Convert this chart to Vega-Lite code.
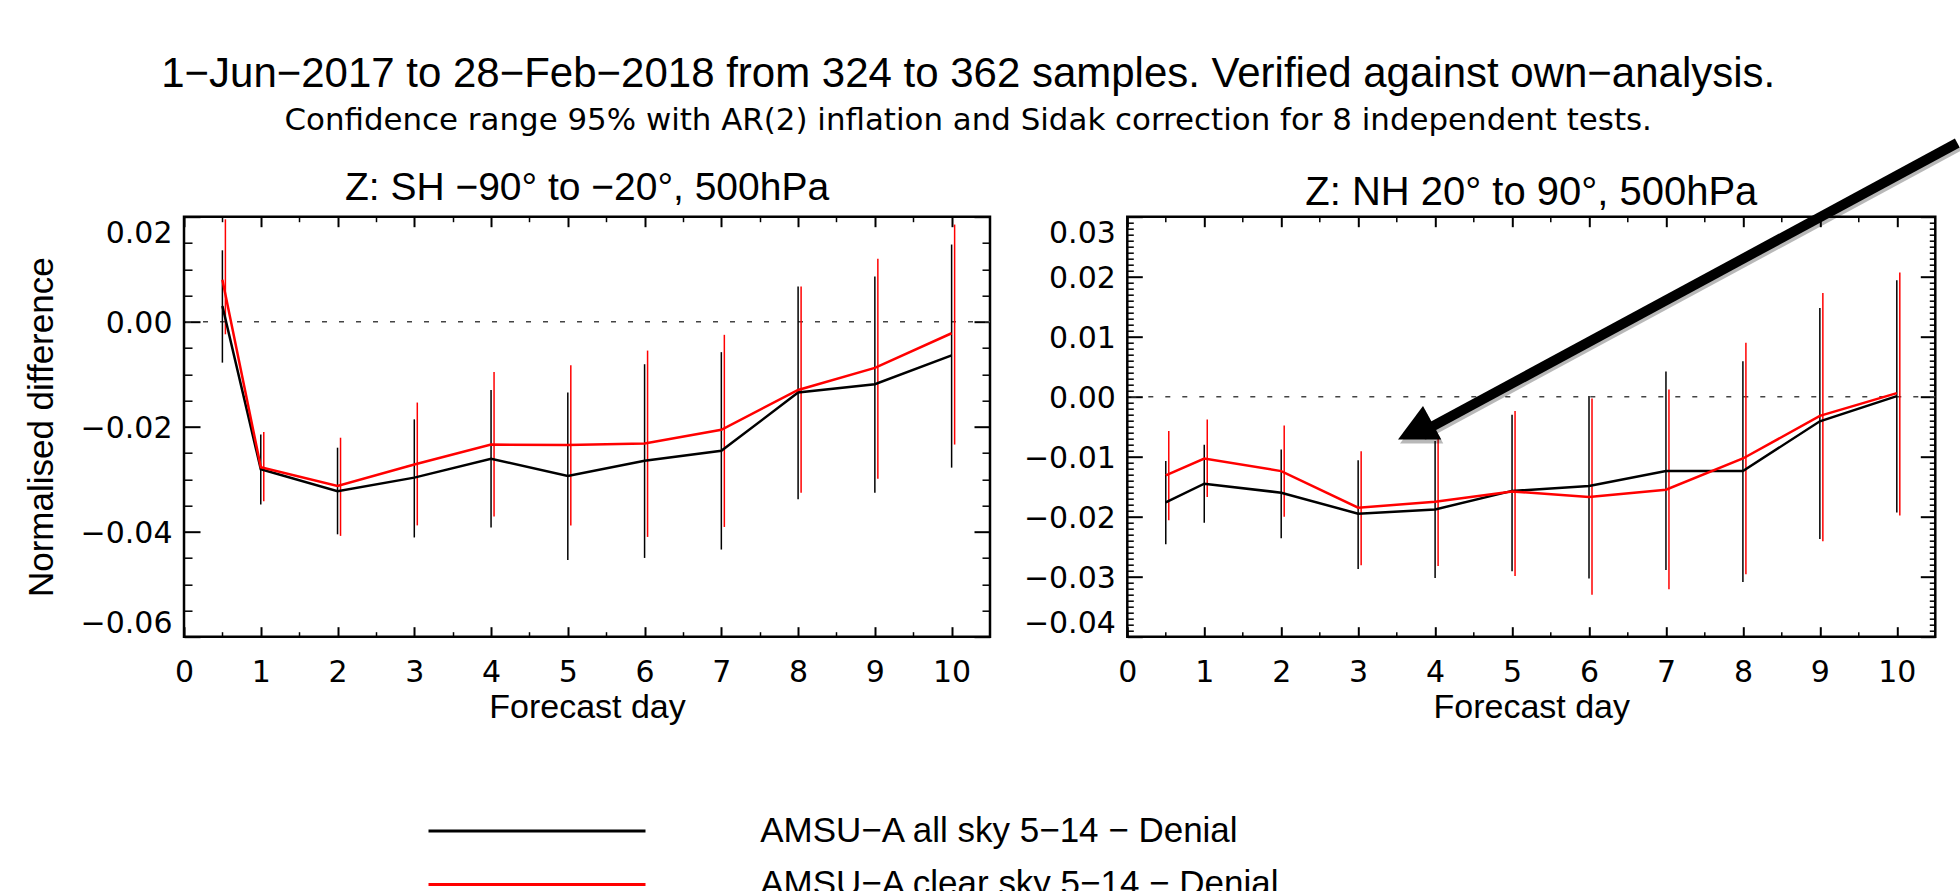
{
  "$schema": "https://vega.github.io/schema/vega-lite/v6.json",
  "background": "white",
  "autosize": {"type": "pad"},
  "padding": {"left": 22, "top": 52.7, "right": 0, "bottom": 0},
  "title": {
    "text": "1−Jun−2017 to 28−Feb−2018 from 324 to 362 samples. Verified against own−analysis.",
    "subtitle": "Confidence range 95% with AR(2) inflation and Sidak correction for 8 independent tests.",
    "anchor": "middle",
    "frame": "bounds",
    "dx": -25.5,
    "font": "Liberation Sans",
    "fontSize": 42,
    "fontWeight": "normal",
    "color": "black",
    "subtitleFont": "DejaVu Sans",
    "subtitleFontSize": 30.9,
    "subtitleColor": "black",
    "subtitlePadding": 9.5,
    "offset": 0
  },
  "datasets": {
    "sh": [
      {"day": 0.5, "series": "AMSU−A all sky 5−14 − Denial", "value": 0.003, "lo": -0.0078, "hi": 0.0136},
      {"day": 1, "series": "AMSU−A all sky 5−14 − Denial", "value": -0.0281, "lo": -0.0348, "hi": -0.0215},
      {"day": 2, "series": "AMSU−A all sky 5−14 − Denial", "value": -0.0323, "lo": -0.0405, "hi": -0.024},
      {"day": 3, "series": "AMSU−A all sky 5−14 − Denial", "value": -0.0297, "lo": -0.0411, "hi": -0.0186},
      {"day": 4, "series": "AMSU−A all sky 5−14 − Denial", "value": -0.0261, "lo": -0.0392, "hi": -0.013},
      {"day": 5, "series": "AMSU−A all sky 5−14 − Denial", "value": -0.0294, "lo": -0.0454, "hi": -0.0135},
      {"day": 6, "series": "AMSU−A all sky 5−14 − Denial", "value": -0.0265, "lo": -0.045, "hi": -0.0081},
      {"day": 7, "series": "AMSU−A all sky 5−14 − Denial", "value": -0.0246, "lo": -0.0434, "hi": -0.0058},
      {"day": 8, "series": "AMSU−A all sky 5−14 − Denial", "value": -0.0135, "lo": -0.0338, "hi": 0.0067},
      {"day": 9, "series": "AMSU−A all sky 5−14 − Denial", "value": -0.0119, "lo": -0.0326, "hi": 0.0086},
      {"day": 10, "series": "AMSU−A all sky 5−14 − Denial", "value": -0.0064, "lo": -0.0278, "hi": 0.0147},
      {"day": 0.5, "series": "AMSU−A clear sky 5−14 − Denial", "value": 0.008, "lo": -0.0024, "hi": 0.0195},
      {"day": 1, "series": "AMSU−A clear sky 5−14 − Denial", "value": -0.0277, "lo": -0.0342, "hi": -0.021},
      {"day": 2, "series": "AMSU−A clear sky 5−14 − Denial", "value": -0.0313, "lo": -0.0408, "hi": -0.0221},
      {"day": 3, "series": "AMSU−A clear sky 5−14 − Denial", "value": -0.0272, "lo": -0.0388, "hi": -0.0154},
      {"day": 4, "series": "AMSU−A clear sky 5−14 − Denial", "value": -0.0234, "lo": -0.0371, "hi": -0.0096},
      {"day": 5, "series": "AMSU−A clear sky 5−14 − Denial", "value": -0.0235, "lo": -0.0388, "hi": -0.0083},
      {"day": 6, "series": "AMSU−A clear sky 5−14 − Denial", "value": -0.0232, "lo": -0.041, "hi": -0.0055},
      {"day": 7, "series": "AMSU−A clear sky 5−14 − Denial", "value": -0.0206, "lo": -0.0391, "hi": -0.0025},
      {"day": 8, "series": "AMSU−A clear sky 5−14 − Denial", "value": -0.013, "lo": -0.0326, "hi": 0.0067},
      {"day": 9, "series": "AMSU−A clear sky 5−14 − Denial", "value": -0.0088, "lo": -0.0299, "hi": 0.012},
      {"day": 10, "series": "AMSU−A clear sky 5−14 − Denial", "value": -0.0022, "lo": -0.0234, "hi": 0.0185}
    ],
    "nh": [
      {"day": 0.5, "series": "AMSU−A all sky 5−14 − Denial", "value": -0.0176, "lo": -0.0246, "hi": -0.0107},
      {"day": 1, "series": "AMSU−A all sky 5−14 − Denial", "value": -0.0145, "lo": -0.021, "hi": -0.008},
      {"day": 2, "series": "AMSU−A all sky 5−14 − Denial", "value": -0.016, "lo": -0.0236, "hi": -0.0088},
      {"day": 3, "series": "AMSU−A all sky 5−14 − Denial", "value": -0.0195, "lo": -0.0287, "hi": -0.0106},
      {"day": 4, "series": "AMSU−A all sky 5−14 − Denial", "value": -0.0188, "lo": -0.0302, "hi": -0.0074},
      {"day": 5, "series": "AMSU−A all sky 5−14 − Denial", "value": -0.0157, "lo": -0.0291, "hi": -0.003},
      {"day": 6, "series": "AMSU−A all sky 5−14 − Denial", "value": -0.0149, "lo": -0.0303, "hi": 0.0001},
      {"day": 7, "series": "AMSU−A all sky 5−14 − Denial", "value": -0.0124, "lo": -0.0289, "hi": 0.0042},
      {"day": 8, "series": "AMSU−A all sky 5−14 − Denial", "value": -0.0124, "lo": -0.0309, "hi": 0.0059},
      {"day": 9, "series": "AMSU−A all sky 5−14 − Denial", "value": -0.0041, "lo": -0.0237, "hi": 0.0148},
      {"day": 10, "series": "AMSU−A all sky 5−14 − Denial", "value": 0.0001, "lo": -0.0193, "hi": 0.0194},
      {"day": 0.5, "series": "AMSU−A clear sky 5−14 − Denial", "value": -0.0131, "lo": -0.0206, "hi": -0.0057},
      {"day": 1, "series": "AMSU−A clear sky 5−14 − Denial", "value": -0.0103, "lo": -0.0167, "hi": -0.0038},
      {"day": 2, "series": "AMSU−A clear sky 5−14 − Denial", "value": -0.0124, "lo": -0.02, "hi": -0.0048},
      {"day": 3, "series": "AMSU−A clear sky 5−14 − Denial", "value": -0.0185, "lo": -0.0281, "hi": -0.0091},
      {"day": 4, "series": "AMSU−A clear sky 5−14 − Denial", "value": -0.0175, "lo": -0.0282, "hi": -0.0068},
      {"day": 5, "series": "AMSU−A clear sky 5−14 − Denial", "value": -0.0158, "lo": -0.0299, "hi": -0.0024},
      {"day": 6, "series": "AMSU−A clear sky 5−14 − Denial", "value": -0.0167, "lo": -0.033, "hi": -0.0003},
      {"day": 7, "series": "AMSU−A clear sky 5−14 − Denial", "value": -0.0155, "lo": -0.0321, "hi": 0.0012},
      {"day": 8, "series": "AMSU−A clear sky 5−14 − Denial", "value": -0.0103, "lo": -0.0296, "hi": 0.009},
      {"day": 9, "series": "AMSU−A clear sky 5−14 − Denial", "value": -0.0032, "lo": -0.0241, "hi": 0.0173},
      {"day": 10, "series": "AMSU−A clear sky 5−14 − Denial", "value": 0.0006, "lo": -0.0198, "hi": 0.0207}
    ]
  },
  "bounds": "flush",
  "spacing": 137.3,
  "hconcat": [
    {
      "width": 806,
      "height": 420,
      "title": {"text": "Z: SH −90° to −20°, 500hPa", "frame": "group", "anchor": "middle", "offset": 8, "font": "Liberation Sans", "fontSize": 39, "fontWeight": "normal", "color": "black"},
      "data": {"name": "sh"},
      "resolve": {"axis": {"x": "independent", "y": "independent"}},
      "layer": [
        {
          "data": {"values": [{"ref": 0}]},
          "mark": {"type": "rule", "color": "#444444", "strokeWidth": 1.5, "strokeDash": [5, 12]},
          "encoding": {
            "y": {"field": "ref", "type": "quantitative", "scale": {"domain": [-0.06, 0.02], "nice": false, "zero": false}, "axis": null}
          }
        },
        {
          "transform": [{"filter": "indexof(datum.series, 'clear') < 0"}],
          "mark": {"type": "rule", "strokeWidth": 1.5},
          "encoding": {
            "x": {"field": "day", "type": "quantitative", "scale": {"domain": [0, 10.5], "nice": false, "zero": false},
              "axis": {"orient": "bottom", "values": [0,1,2,3,4,5,6,7,8,9,10], "format": "d", "tickSize": -10, "tickWidth": 2, "labelPadding": 30.7, "labelFlush": false, "title": "Forecast day", "titleFontSize": 34, "titlePadding": 3.4}},
            "y": {"field": "lo", "type": "quantitative", "scale": {"domain": [-0.06, 0.02], "nice": false, "zero": false},
              "axis": {"orient": "left", "values": [-0.06, -0.04, -0.02, 0, 0.02], "format": ".2f", "tickSize": -16, "tickWidth": 2, "labelPadding": 28, "labelFlush": true, "labelOffset": 2, "title": "Normalised difference", "titleFontSize": 35, "titlePadding": 21}},
            "y2": {"field": "hi"},
            "color": {"field": "series", "type": "nominal",
              "scale": {"domain": ["AMSU−A all sky 5−14 − Denial", "AMSU−A clear sky 5−14 − Denial"], "range": ["#000000", "#ff0000"]},
              "legend": {"orient": "none", "legendX": 243, "legendY": 596.9, "title": null, "direction": "vertical", "symbolType": "stroke", "symbolSize": 47089, "symbolStrokeWidth": 3, "clipHeight": 35, "rowPadding": 17.3, "labelOffset": 113.2, "labelFont": "Liberation Sans", "labelFontSize": 35, "labelColor": "black", "labelLimit": 2000, "labelBaseline": "middle", "padding": 0, "offset": 0}}
          }
        },
        {
          "transform": [{"filter": "indexof(datum.series, 'clear') >= 0"}],
          "mark": {"type": "rule", "strokeWidth": 1.5, "xOffset": 3},
          "encoding": {
            "x": {"field": "day", "type": "quantitative", "scale": {"domain": [0, 10.5], "nice": false, "zero": false},
              "axis": {"orient": "top", "values": [0,1,2,3,4,5,6,7,8,9,10], "tickSize": -10, "tickWidth": 2, "labels": false, "title": null}},
            "y": {"field": "lo", "type": "quantitative", "scale": {"domain": [-0.06, 0.02], "nice": false, "zero": false},
              "axis": {"orient": "right", "values": [-0.06, -0.04, -0.02, 0, 0.02], "tickSize": -16, "tickWidth": 2, "labels": false, "title": null}},
            "y2": {"field": "hi"},
            "color": {"field": "series", "type": "nominal",
              "scale": {"domain": ["AMSU−A all sky 5−14 − Denial", "AMSU−A clear sky 5−14 − Denial"], "range": ["#000000", "#ff0000"]}}
          }
        },
        {
          "transform": [{"filter": "indexof(datum.series, 'clear') < 0"}],
          "mark": {"type": "line", "strokeWidth": 2.5},
          "encoding": {
            "x": {"field": "day", "type": "quantitative", "scale": {"domain": [0, 10.5], "nice": false, "zero": false},
              "axis": {"orient": "bottom", "values": [0.5,1.5,2.5,3.5,4.5,5.5,6.5,7.5,8.5,9.5], "tickSize": -5, "tickWidth": 1.5, "labels": false, "title": null}},
            "y": {"field": "value", "type": "quantitative", "scale": {"domain": [-0.06, 0.02], "nice": false, "zero": false},
              "axis": {"orient": "left", "values": [-0.055,-0.05,-0.045,-0.035,-0.03,-0.025,-0.015,-0.01,-0.005,0.005,0.01,0.015], "tickSize": -8, "tickWidth": 1.5, "labels": false, "title": null}},
            "color": {"field": "series", "type": "nominal",
              "scale": {"domain": ["AMSU−A all sky 5−14 − Denial", "AMSU−A clear sky 5−14 − Denial"], "range": ["#000000", "#ff0000"]}}
          }
        },
        {
          "transform": [{"filter": "indexof(datum.series, 'clear') >= 0"}],
          "mark": {"type": "line", "strokeWidth": 2.5},
          "encoding": {
            "x": {"field": "day", "type": "quantitative", "scale": {"domain": [0, 10.5], "nice": false, "zero": false},
              "axis": {"orient": "top", "values": [0.5,1.5,2.5,3.5,4.5,5.5,6.5,7.5,8.5,9.5], "tickSize": -5, "tickWidth": 1.5, "labels": false, "title": null}},
            "y": {"field": "value", "type": "quantitative", "scale": {"domain": [-0.06, 0.02], "nice": false, "zero": false},
              "axis": {"orient": "right", "values": [-0.055,-0.05,-0.045,-0.035,-0.03,-0.025,-0.015,-0.01,-0.005,0.005,0.01,0.015], "tickSize": -8, "tickWidth": 1.5, "labels": false, "title": null}},
            "color": {"field": "series", "type": "nominal",
              "scale": {"domain": ["AMSU−A all sky 5−14 − Denial", "AMSU−A clear sky 5−14 − Denial"], "range": ["#000000", "#ff0000"]}}
          }
        }
      ]
    },
    {
      "width": 808,
      "height": 420,
      "title": {"text": "Z: NH 20° to 90°, 500hPa", "frame": "group", "anchor": "middle", "offset": -74.8, "font": "Liberation Sans", "fontSize": 40, "fontWeight": "normal", "color": "black"},
      "data": {"name": "nh"},
      "resolve": {"axis": {"x": "independent", "y": "independent"}},
      "layer": [
        {
          "data": {"values": [{"ref": 0}]},
          "mark": {"type": "rule", "color": "#444444", "strokeWidth": 1.5, "strokeDash": [5, 12]},
          "encoding": {
            "y": {"field": "ref", "type": "quantitative", "scale": {"domain": [-0.04, 0.03], "nice": false, "zero": false}, "axis": null}
          }
        },
        {
          "transform": [{"filter": "indexof(datum.series, 'clear') < 0"}],
          "mark": {"type": "rule", "strokeWidth": 1.5},
          "encoding": {
            "x": {"field": "day", "type": "quantitative", "scale": {"domain": [0, 10.5], "nice": false, "zero": false},
              "axis": {"orient": "bottom", "values": [0,1,2,3,4,5,6,7,8,9,10], "format": "d", "tickSize": -10, "tickWidth": 2, "labelPadding": 30.7, "labelFlush": false, "title": "Forecast day", "titleFontSize": 34, "titlePadding": 3.4}},
            "y": {"field": "lo", "type": "quantitative", "scale": {"domain": [-0.04, 0.03], "nice": false, "zero": false},
              "axis": {"orient": "left", "values": [-0.04, -0.03, -0.02, -0.01, 0, 0.01, 0.02, 0.03], "format": ".2f", "tickSize": -15, "tickWidth": 2, "labelPadding": 27, "labelFlush": true, "labelOffset": 2, "title": null}},
            "y2": {"field": "hi"},
            "color": {"field": "series", "type": "nominal",
              "scale": {"domain": ["AMSU−A all sky 5−14 − Denial", "AMSU−A clear sky 5−14 − Denial"], "range": ["#000000", "#ff0000"]}}
          }
        },
        {
          "transform": [{"filter": "indexof(datum.series, 'clear') >= 0"}],
          "mark": {"type": "rule", "strokeWidth": 1.5, "xOffset": 3},
          "encoding": {
            "x": {"field": "day", "type": "quantitative", "scale": {"domain": [0, 10.5], "nice": false, "zero": false},
              "axis": {"orient": "top", "values": [0,1,2,3,4,5,6,7,8,9,10], "tickSize": -10, "tickWidth": 2, "labels": false, "title": null}},
            "y": {"field": "lo", "type": "quantitative", "scale": {"domain": [-0.04, 0.03], "nice": false, "zero": false},
              "axis": {"orient": "right", "values": [-0.04, -0.03, -0.02, -0.01, 0, 0.01, 0.02, 0.03], "tickSize": -15, "tickWidth": 2, "labels": false, "title": null}},
            "y2": {"field": "hi"},
            "color": {"field": "series", "type": "nominal",
              "scale": {"domain": ["AMSU−A all sky 5−14 − Denial", "AMSU−A clear sky 5−14 − Denial"], "range": ["#000000", "#ff0000"]}}
          }
        },
        {
          "transform": [{"filter": "indexof(datum.series, 'clear') < 0"}],
          "mark": {"type": "line", "strokeWidth": 2.5},
          "encoding": {
            "x": {"field": "day", "type": "quantitative", "scale": {"domain": [0, 10.5], "nice": false, "zero": false},
              "axis": {"orient": "bottom", "values": [0.5,1.5,2.5,3.5,4.5,5.5,6.5,7.5,8.5,9.5], "tickSize": -5, "tickWidth": 1.5, "labels": false, "title": null}},
            "y": {"field": "value", "type": "quantitative", "scale": {"domain": [-0.04, 0.03], "nice": false, "zero": false},
              "axis": {"orient": "left", "values": [-0.039,-0.038,-0.037,-0.036,-0.035,-0.034,-0.033,-0.032,-0.031,-0.029,-0.028,-0.027,-0.026,-0.025,-0.024,-0.023,-0.022,-0.021,-0.019,-0.018,-0.017,-0.016,-0.015,-0.014,-0.013,-0.012,-0.011,-0.009,-0.008,-0.007,-0.006,-0.005,-0.004,-0.003,-0.002,-0.001,0.001,0.002,0.003,0.004,0.005,0.006,0.007,0.008,0.009,0.011,0.012,0.013,0.014,0.015,0.016,0.017,0.018,0.019,0.021,0.022,0.023,0.024,0.025,0.026,0.027,0.028,0.029], "tickSize": -6, "tickWidth": 1.5, "labels": false, "title": null}},
            "color": {"field": "series", "type": "nominal",
              "scale": {"domain": ["AMSU−A all sky 5−14 − Denial", "AMSU−A clear sky 5−14 − Denial"], "range": ["#000000", "#ff0000"]}}
          }
        },
        {
          "transform": [{"filter": "indexof(datum.series, 'clear') >= 0"}],
          "mark": {"type": "line", "strokeWidth": 2.5},
          "encoding": {
            "x": {"field": "day", "type": "quantitative", "scale": {"domain": [0, 10.5], "nice": false, "zero": false},
              "axis": {"orient": "top", "values": [0.5,1.5,2.5,3.5,4.5,5.5,6.5,7.5,8.5,9.5], "tickSize": -5, "tickWidth": 1.5, "labels": false, "title": null}},
            "y": {"field": "value", "type": "quantitative", "scale": {"domain": [-0.04, 0.03], "nice": false, "zero": false},
              "axis": {"orient": "right", "values": [-0.039,-0.038,-0.037,-0.036,-0.035,-0.034,-0.033,-0.032,-0.031,-0.029,-0.028,-0.027,-0.026,-0.025,-0.024,-0.023,-0.022,-0.021,-0.019,-0.018,-0.017,-0.016,-0.015,-0.014,-0.013,-0.012,-0.011,-0.009,-0.008,-0.007,-0.006,-0.005,-0.004,-0.003,-0.002,-0.001,0.001,0.002,0.003,0.004,0.005,0.006,0.007,0.008,0.009,0.011,0.012,0.013,0.014,0.015,0.016,0.017,0.018,0.019,0.021,0.022,0.023,0.024,0.025,0.026,0.027,0.028,0.029], "tickSize": -6, "tickWidth": 1.5, "labels": false, "title": null}},
            "color": {"field": "series", "type": "nominal",
              "scale": {"domain": ["AMSU−A all sky 5−14 − Denial", "AMSU−A clear sky 5−14 − Denial"], "range": ["#000000", "#ff0000"]}}
          }
        },
        {
          "data": {"values": [{"d1": 10.786, "v1": 0.04228, "d2": 3.821, "v2": -0.00595}]},
          "mark": {"type": "rule", "strokeWidth": 8, "color": "black", "opacity": 0.28, "strokeCap": "butt", "xOffset": 2, "yOffset": 4, "x2Offset": 2, "y2Offset": 4},
          "encoding": {
            "x": {"field": "d1", "type": "quantitative", "scale": {"domain": [0, 10.5], "nice": false, "zero": false}, "axis": null},
            "y": {"field": "v1", "type": "quantitative", "scale": {"domain": [-0.04, 0.03], "nice": false, "zero": false}, "axis": null},
            "x2": {"field": "d2"},
            "y2": {"field": "v2"}
          }
        },
        {
          "data": {"values": [{"d": 3.814, "v": -0.00527}]},
          "mark": {"type": "point", "shape": "M -0.991 0.483 L 0.096 -0.965 L 0.891 0.483 Z", "size": 2116, "filled": true, "color": "black", "opacity": 0.28, "strokeWidth": 0, "xOffset": 2, "yOffset": 4},
          "encoding": {
            "x": {"field": "d", "type": "quantitative", "scale": {"domain": [0, 10.5], "nice": false, "zero": false}, "axis": null},
            "y": {"field": "v", "type": "quantitative", "scale": {"domain": [-0.04, 0.03], "nice": false, "zero": false}, "axis": null}
          }
        },
        {
          "data": {"values": [{"d1": 10.786, "v1": 0.04228, "d2": 3.821, "v2": -0.00595}]},
          "mark": {"type": "rule", "strokeWidth": 10, "color": "black", "strokeCap": "butt"},
          "encoding": {
            "x": {"field": "d1", "type": "quantitative", "scale": {"domain": [0, 10.5], "nice": false, "zero": false}, "axis": null},
            "y": {"field": "v1", "type": "quantitative", "scale": {"domain": [-0.04, 0.03], "nice": false, "zero": false}, "axis": null},
            "x2": {"field": "d2"},
            "y2": {"field": "v2"}
          }
        },
        {
          "data": {"values": [{"d": 3.814, "v": -0.00527}]},
          "mark": {"type": "point", "shape": "M -0.991 0.483 L 0.096 -0.965 L 0.891 0.483 Z", "size": 2116, "filled": true, "color": "black", "opacity": 1, "strokeWidth": 0},
          "encoding": {
            "x": {"field": "d", "type": "quantitative", "scale": {"domain": [0, 10.5], "nice": false, "zero": false}, "axis": null},
            "y": {"field": "v", "type": "quantitative", "scale": {"domain": [-0.04, 0.03], "nice": false, "zero": false}, "axis": null}
          }
        }
      ]
    }
  ],
  "config": {
    "view": {"stroke": "black", "strokeWidth": 2.5},
    "font": "Liberation Sans",
    "axis": {"domain": false, "grid": false, "tickColor": "black", "labelColor": "black", "titleColor": "black", "labelFont": "DejaVu Sans", "labelFontSize": 30, "titleFont": "Liberation Sans", "titleFontWeight": "normal"}
  }
}
